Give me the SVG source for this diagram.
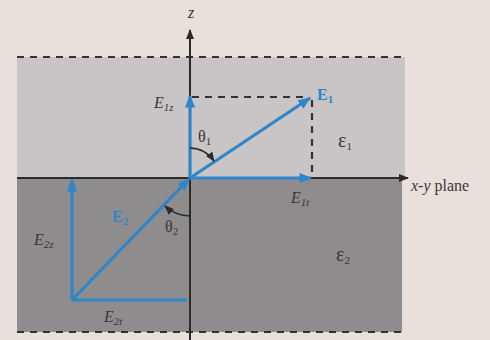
<svg xmlns="http://www.w3.org/2000/svg" width="490" height="340" viewBox="0 0 490 340">
<defs>
<style>
.ax{stroke:#2b2a2a;stroke-width:2;fill:none}
.dash{stroke:#333;stroke-width:2.2;stroke-dasharray:7,6;fill:none}
.vec{stroke:#2e86c9;stroke-width:3.2;fill:none}
.lbl{font-family:"Liberation Serif",serif;font-size:16px;fill:#3a3637}
.it{font-style:italic}
.eps{font-size:20px}
.bv{font-family:"Liberation Serif",serif;font-size:16px;font-weight:bold;fill:#2e86c9}
.sub{font-size:11px}
</style>
<marker id="ah" viewBox="0 0 10 10" refX="9" refY="5" markerWidth="4" markerHeight="4" orient="auto" markerUnits="strokeWidth"><path d="M0,1 L10,5 L0,9 Z" fill="#2e86c9"/></marker>
<marker id="ak" viewBox="0 0 10 10" refX="9" refY="5" markerWidth="6" markerHeight="5" orient="auto" markerUnits="strokeWidth"><path d="M0,1 L10,5 L0,9 Z" fill="#2b2a2a"/></marker>
<marker id="as" viewBox="0 0 10 10" refX="9" refY="5" markerWidth="6" markerHeight="6" orient="auto" markerUnits="strokeWidth"><path d="M0,1 L10,5 L0,9 Z" fill="#2b2a2a"/></marker>
</defs>
<rect width="490" height="340" fill="#e8e1db"/>
<g id="region1"><rect x="17" y="57" width="388" height="121" fill="#c9c4c5"/></g>
<g id="region2"><rect x="17" y="178" width="385" height="154" fill="#8f8c8e"/></g>
<g id="boundaries">
<line class="dash" x1="17" y1="57" x2="405" y2="57"/>
<line class="dash" x1="17" y1="332" x2="402" y2="332"/>
<line class="dash" x1="192" y1="97" x2="305" y2="97"/>
<line class="dash" x1="312" y1="100" x2="312" y2="178"/>
</g>
<g id="connectors">
<line class="ax" x1="190" y1="340" x2="190" y2="30" marker-end="url(#ak)"/>
<line class="ax" x1="17" y1="178" x2="408" y2="178" marker-end="url(#ak)"/>
<line class="vec" x1="190" y1="178" x2="310" y2="98" marker-end="url(#ah)"/>
<line class="vec" x1="190" y1="178" x2="190" y2="96" marker-end="url(#ah)"/>
<line class="vec" x1="190" y1="178" x2="311" y2="178" marker-end="url(#ah)"/>
<line class="vec" x1="72" y1="300" x2="189" y2="179" marker-end="url(#ah)"/>
<line class="vec" x1="72" y1="300" x2="72" y2="180" marker-end="url(#ah)"/>
<line class="vec" x1="72" y1="300" x2="187" y2="300"/>
<path d="M190,148 A30,30 0 0 1 214,161" stroke="#2b2a2a" stroke-width="1.6" fill="none" marker-end="url(#as)"/>
<path d="M190,216 A38,38 0 0 1 165,206" stroke="#2b2a2a" stroke-width="1.6" fill="none" marker-end="url(#as)"/>
</g>
<g id="labels">
<text class="lbl it" x="188" y="18">z</text>
<text class="lbl" x="411" y="191"><tspan class="it">x-y</tspan> plane</text>
<text class="bv" x="317" y="100">E<tspan class="sub" dy="3">1</tspan></text>
<text class="lbl it" x="154" y="108">E<tspan class="sub" dy="3">1z</tspan></text>
<text class="lbl it" x="291" y="203">E<tspan class="sub" dy="3">1t</tspan></text>
<text class="lbl" x="198" y="142">θ<tspan class="sub" dy="3">1</tspan></text>
<text class="lbl" x="165" y="232">θ<tspan class="sub" dy="3">2</tspan></text>
<text class="lbl eps" x="338" y="147">ε<tspan class="sub" dy="3">1</tspan></text>
<text class="lbl eps" x="336" y="261">ε<tspan class="sub" dy="3">2</tspan></text>
<text class="bv" x="112" y="222">E<tspan class="sub" dy="3">2</tspan></text>
<text class="lbl it" x="34" y="245">E<tspan class="sub" dy="3">2z</tspan></text>
<text class="lbl it" x="104" y="322">E<tspan class="sub" dy="3">2t</tspan></text>
</g>
</svg>
